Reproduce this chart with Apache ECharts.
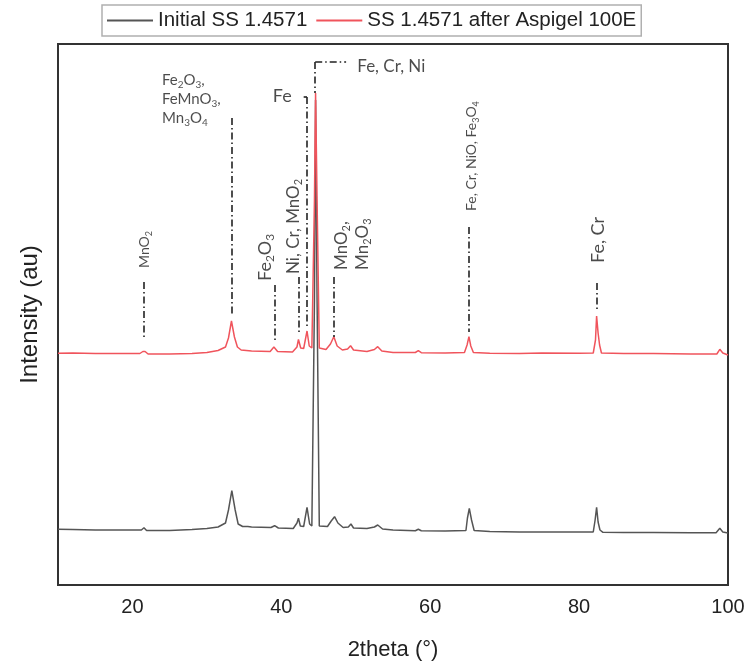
<!DOCTYPE html>
<html>
<head>
<meta charset="utf-8">
<script src="https://cdn.jsdelivr.net/npm/echarts@6/dist/echarts.min.js"></script>
<style>html,body{margin:0;padding:0;background:#fff;}#chart{width:750px;height:668px;}</style>
</head>
<body>
<div id="chart"></div>
<script>
// ---- data (2theta in degrees, intensity in arbitrary units) ----
var seriesNames = ['Initial SS 1.4571', 'SS 1.4571 after Aspigel 100E'];

var initialTheta = [10,12,15,18,21.2,21.55,21.9,25,28,30,31.5,32.5,32.9,33.35,33.8,34.2,34.8,35.5,35.7,36,38.6,39.1,39.6,41.6,42.1,42.3,42.55,43.0,43.45,43.8,44.1,44.45,44.6,44.8,45.1,46.2,46.7,47.15,47.6,48.3,49.0,49.35,49.7,51.5,52.5,52.95,53.6,55,58.0,58.4,58.8,62,64.8,65.0,65.25,65.55,65.9,68,72,75,80,81.9,82.15,82.35,82.55,82.8,83.2,86,90,95,98.4,98.9,99.3,100];
var initialIntensity = [557,555,550,550,550,573,545,545,555,565,580,620,750,943,750,610,585,585,597,580,575,593,570,565,620,667,590,585,777,610,590,2850,4850,2850,590,585,640,683,620,575,580,610,570,565,580,600,560,550,543,557,543,540,545,670,767,650,545,535,530,530,530,530,650,777,630,550,527,525,525,523,523,567,530,520];

var treatedTheta = [10,12,15,18,21.0,21.4,21.55,21.7,22.1,25,28,30,31.5,32.5,32.9,33.3,33.7,34.1,34.6,36,38.5,39.0,39.5,41.5,42.1,42.3,42.6,43.0,43.45,43.75,44.1,44.45,44.6,44.8,45.1,46.0,46.6,47.05,47.5,48.2,48.9,49.3,49.7,51.5,52.5,52.95,53.5,55,58.0,58.4,58.8,62,64.6,64.95,65.2,65.45,65.8,68,72,75,80,81.9,82.2,82.35,82.55,82.75,83.0,86,90,95,98.5,98.9,99.3,100];
var treatedIntensity = [2317,2320,2315,2315,2315,2335,2350,2335,2310,2310,2315,2325,2345,2380,2470,2640,2480,2380,2350,2340,2335,2380,2335,2330,2380,2455,2370,2365,2540,2390,2370,3850,4920,3850,2370,2355,2410,2483,2390,2350,2360,2393,2350,2335,2355,2383,2340,2325,2325,2343,2323,2320,2325,2400,2483,2390,2325,2317,2315,2320,2317,2320,2450,2690,2520,2400,2320,2315,2315,2310,2310,2357,2320,2300];

// dash-dot reference lines: position, top, bottom
var refTheta  = [21.55, 33.37, 39.05, 42.3, 43.45, 44.55, 47.0, 65.2, 82.4];
var refTop    = [3030, 4670, 3000, 3080, 4880, 5230, 3080, 3580, 3020];
var refBottom = [2470, 2710, 2430, 2520, 2580, 4920, 2480, 2530, 2730];
// short horizontal leader dashes: start, end, level
var leaderStart = [43.0, 44.55];
var leaderEnd   = [43.45, 48.7];
var leaderLevel = [4880, 5230];

// phase labels: text (rich), anchor position, rotation, font size, alignment
var labelText = [
  'MnO{s|2}',
  'Fe{s|2}O{s|3},\nFeMnO{s|3},\nMn{s|3}O{s|4}',
  'Fe{s|2}O{s|3}',
  'Ni, Cr, MnO{s|2}',
  'Fe',
  'Fe, Cr, Ni',
  'MnO{s|2},\nMn{s|2}O{s|3}',
  'Fe, Cr, NiO, Fe{s|3}O{s|4}',
  'Fe, Cr'
];
var labelTheta = [21.6, 23.97, 37.8, 41.57, 41.4, 50.2, 49.5, 65.5, 82.55];
var labelLevel = [3170, 5140, 3040, 3110, 4890, 5180, 3150, 3740, 3220];
var labelRotate = [90, 0, 90, 90, 0, 0, 90, 90, 90];
var labelSize = [14, 15, 18, 17, 18, 17, 17, 14, 18];
var labelAlign = ['left','left','left','left','right','left','left','left','left'];
var labelVAlign = ['middle','top','middle','middle','middle','middle','middle','middle','middle'];

function zip(a, b) { return a.map(function (v, i) { return [v, b[i]]; }); }

var refLines = [];
refTheta.forEach(function (t, i) {
  refLines.push([{ coord: [t, refTop[i]] }, { coord: [t, refBottom[i]] }]);
});
leaderStart.forEach(function (s, i) {
  refLines.push([{ coord: [s, leaderLevel[i]] }, { coord: [leaderEnd[i], leaderLevel[i]] }]);
});

var labelData = labelText.map(function (txt, i) {
  var fs = labelSize[i];
  var lh = Math.round(fs * 1.25);
  return {
    value: [labelTheta[i], labelLevel[i]],
    label: {
      show: true,
      position: 'inside',
      formatter: txt,
      rotate: labelRotate[i],
      align: labelAlign[i],
      verticalAlign: labelVAlign[i],
      fontFamily: 'Lato',
      fontSize: fs,
      lineHeight: lh,
      color: '#1e1e1e',
      rich: {
        s: { fontSize: Math.round(fs * 0.65), fontFamily: 'Lato', color: '#1e1e1e', lineHeight: Math.round(lh / 2), verticalAlign: 'bottom' }
      }
    }
  };
});

var chart = echarts.init(document.getElementById('chart'), null, { renderer: 'canvas' });
chart.setOption({
  animation: false,
  backgroundColor: '#ffffff',
  legend: {
    data: seriesNames,
    left: 102,
    top: 5,
    orient: 'horizontal',
    padding: [5, 5],
    itemGap: 9,
    itemWidth: 46,
    itemHeight: 2,
    icon: 'rect',
    borderColor: '#b0b0b0',
    borderWidth: 1.5,
    borderRadius: 0,
    textStyle: { fontFamily: 'Liberation Sans', fontSize: 20.5, color: '#222', padding: [0, 0, 0, 0], lineHeight: 20 }
  },
  grid: {
    left: 58, right: 22, top: 44, bottom: 83,
    show: true, borderColor: '#333', borderWidth: 2, backgroundColor: 'transparent'
  },
  xAxis: {
    type: 'value',
    min: 10, max: 100, interval: 10,
    name: '2theta (°)',
    nameLocation: 'middle',
    nameGap: 54,
    nameTextStyle: { fontFamily: 'Liberation Sans', fontSize: 22, color: '#222' },
    axisLine: { show: true, lineStyle: { color: '#333', width: 2 } },
    axisTick: { show: false },
    splitLine: { show: false },
    axisLabel: {
      margin: 12,
      fontFamily: 'Liberation Sans', fontSize: 20, color: '#222',
      formatter: function (v) { return v % 20 === 0 ? String(v) : ''; }
    }
  },
  yAxis: {
    type: 'value',
    min: 0, max: 5410,
    name: 'Intensity (au)',
    nameLocation: 'middle',
    nameGap: 16,
    nameTextStyle: { fontFamily: 'Liberation Sans', fontSize: 24, color: '#222' },
    axisLine: { show: true, lineStyle: { color: '#333', width: 2 } },
    axisTick: { show: false },
    axisLabel: { show: false },
    splitLine: { show: false }
  },
  series: [
    {
      name: seriesNames[0],
      type: 'line',
      data: zip(initialTheta, initialIntensity),
      showSymbol: false, symbol: 'none',
      lineStyle: { color: '#555555', width: 1.5 },
      itemStyle: { color: '#555555' },
      z: 2
    },
    {
      name: seriesNames[1],
      type: 'line',
      data: zip(treatedTheta, treatedIntensity),
      showSymbol: false, symbol: 'none',
      lineStyle: { color: '#f0545c', width: 1.5 },
      itemStyle: { color: '#f0545c' },
      z: 3,
      markLine: {
        silent: true,
        symbol: ['none', 'none'],
        label: { show: false },
        lineStyle: { color: '#222', width: 1.6, type: [7, 3, 1.5, 3] },
        data: refLines
      }
    },
    {
      name: 'labels',
      type: 'scatter',
      symbolSize: 1,
      itemStyle: { color: 'rgba(0,0,0,0)' },
      silent: true,
      z: 5,
      data: labelData
    }
  ]
});
</script>
</body>
</html>
